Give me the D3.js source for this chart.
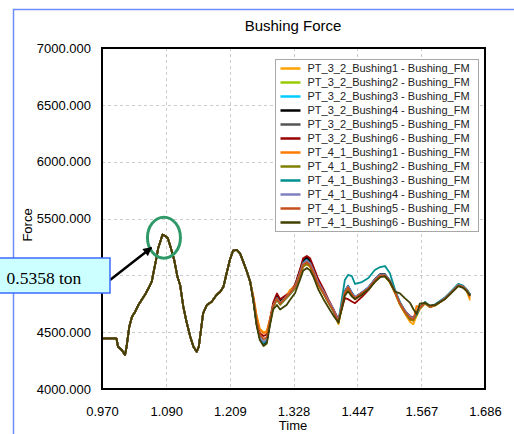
<!DOCTYPE html>
<html>
<head>
<meta charset="utf-8">
<script src="https://cdn.jsdelivr.net/npm/d3@7"></script>
<style>
  html, body { margin: 0; padding: 0; background: #fff; }
  svg { display: block; font-family: "Liberation Sans", Arial, sans-serif; }
</style>
</head>
<body>
<svg id="chart" width="514" height="434"></svg>
<script>
// ---- data -------------------------------------------------------------
const seriesNames = [
  "PT_3_2_Bushing1 - Bushing_FM", "PT_3_2_Bushing2 - Bushing_FM",
  "PT_3_2_Bushing3 - Bushing_FM", "PT_3_2_Bushing4 - Bushing_FM",
  "PT_3_2_Bushing5 - Bushing_FM", "PT_3_2_Bushing6 - Bushing_FM",
  "PT_4_1_Bushing1 - Bushing_FM", "PT_4_1_Bushing2 - Bushing_FM",
  "PT_4_1_Bushing3 - Bushing_FM", "PT_4_1_Bushing4 - Bushing_FM",
  "PT_4_1_Bushing5 - Bushing_FM", "PT_4_1_Bushing6 - Bushing_FM"
];
const seriesColors = [
  "#ffa200", "#99cc00", "#00ccff", "#000000", "#555555", "#990000",
  "#ff7a00", "#808000", "#009090", "#8080c0", "#c4501c", "#404000"
];

const xTicks = [0.970, 1.090, 1.209, 1.328, 1.447, 1.567, 1.686];
const yTicks = [4000, 4500, 5000, 5500, 6000, 6500, 7000];

// Start of the run: every bushing follows the same force history
const headTime = [0.970, 0.997, 1.000, 1.007, 1.013, 1.016, 1.021, 1.026, 1.032, 1.038,
  1.044, 1.050, 1.057, 1.063, 1.066, 1.071, 1.075, 1.080, 1.083, 1.088,
  1.093, 1.098, 1.105, 1.111, 1.116, 1.122, 1.128, 1.135, 1.141, 1.147,
  1.151, 1.155, 1.159, 1.166, 1.175, 1.184, 1.191, 1.197, 1.203, 1.209,
  1.215, 1.222, 1.228, 1.234, 1.241, 1.247];
const headForce = [4446, 4446, 4372, 4343, 4299, 4372, 4548, 4636, 4680, 4739,
  4783, 4827, 4886, 4944, 5018, 5135, 5238, 5311, 5358, 5346,
  5326, 5252, 5135, 4988, 4915, 4724, 4592, 4460, 4372, 4328,
  4372, 4519, 4666, 4739, 4768, 4827, 4856, 4900, 5018, 5135,
  5217, 5223, 5194, 5120, 5032, 4944];

// Later part: the bushings separate
const tailTime = [1.253, 1.259, 1.265, 1.272, 1.278, 1.284, 1.290, 1.297, 1.303, 1.315,
  1.321, 1.331, 1.340, 1.346, 1.353, 1.359, 1.365, 1.374, 1.384, 1.393,
  1.402, 1.412, 1.418, 1.424, 1.430, 1.437, 1.443, 1.456, 1.468, 1.480,
  1.490, 1.499, 1.508, 1.518, 1.527, 1.536, 1.546, 1.552, 1.558, 1.564,
  1.574, 1.583, 1.593, 1.611, 1.621, 1.636, 1.645, 1.652, 1.658];

const pt32b1 = [4820, 4650, 4530, 4500, 4510, 4620, 4740, 4790, 4750, 4820, 4870, 4910, 5000, 5080, 5095, 5075, 5010, 4915, 4840, 4765, 4690, 4570, 4715, 4840, 4880, 4830, 4795, 4840, 4880, 4945, 4990, 4995, 4940, 4840, 4740, 4665, 4590, 4570, 4640, 4700, 4750, 4720, 4735, 4790, 4840, 4905, 4905, 4860, 4780];
const pt32b2 = [4790, 4590, 4470, 4420, 4440, 4585, 4725, 4785, 4745, 4805, 4830, 4890, 5000, 5085, 5105, 5085, 5025, 4925, 4845, 4770, 4700, 4585, 4725, 4850, 4890, 4830, 4795, 4840, 4880, 4950, 4995, 4995, 4945, 4850, 4750, 4680, 4620, 4610, 4655, 4710, 4755, 4720, 4735, 4795, 4840, 4910, 4900, 4870, 4820];
const pt32b3 = [4780, 4575, 4450, 4396, 4420, 4580, 4735, 4810, 4765, 4815, 4840, 4905, 5030, 5120, 5150, 5120, 5050, 4940, 4855, 4775, 4700, 4600, 4740, 4865, 4910, 4850, 4810, 4850, 4895, 4965, 5010, 5010, 4955, 4855, 4755, 4680, 4625, 4615, 4655, 4715, 4765, 4725, 4745, 4800, 4850, 4920, 4905, 4875, 4825];
const pt32b4 = [4780, 4570, 4445, 4396, 4415, 4585, 4740, 4820, 4770, 4820, 4845, 4910, 5040, 5130, 5160, 5125, 5050, 4940, 4855, 4775, 4700, 4595, 4735, 4860, 4905, 4845, 4805, 4850, 4890, 4965, 5010, 5010, 4955, 4855, 4755, 4685, 4630, 4620, 4660, 4715, 4760, 4725, 4740, 4800, 4845, 4915, 4905, 4870, 4830];
const pt32b5 = [4785, 4580, 4455, 4410, 4430, 4580, 4725, 4795, 4750, 4810, 4835, 4895, 5015, 5105, 5130, 5105, 5040, 4935, 4855, 4775, 4705, 4600, 4730, 4855, 4900, 4840, 4800, 4845, 4890, 4960, 5005, 5005, 4950, 4855, 4760, 4690, 4635, 4625, 4660, 4710, 4760, 4725, 4740, 4800, 4845, 4915, 4900, 4870, 4830];
const pt32b6 = [4800, 4620, 4490, 4466, 4480, 4610, 4760, 4840, 4790, 4830, 4850, 4920, 5050, 5150, 5170, 5150, 5080, 4970, 4880, 4790, 4710, 4610, 4700, 4800, 4790, 4770, 4755, 4810, 4870, 4950, 4995, 4995, 4945, 4850, 4755, 4690, 4640, 4630, 4665, 4715, 4760, 4725, 4740, 4795, 4840, 4910, 4900, 4870, 4830];
const pt41b1 = [4810, 4640, 4520, 4490, 4500, 4610, 4735, 4795, 4755, 4815, 4860, 4905, 5005, 5085, 5100, 5080, 5020, 4920, 4845, 4770, 4695, 4580, 4720, 4845, 4885, 4825, 4790, 4835, 4875, 4945, 4995, 4995, 4945, 4845, 4745, 4670, 4605, 4600, 4730, 4720, 4755, 4725, 4740, 4795, 4845, 4910, 4900, 4865, 4800];
const pt41b2 = [4780, 4585, 4460, 4415, 4435, 4580, 4720, 4785, 4740, 4800, 4830, 4885, 4995, 5075, 5100, 5080, 5020, 4920, 4840, 4760, 4690, 4580, 4720, 4845, 4890, 4830, 4795, 4840, 4880, 4945, 4990, 4990, 4940, 4845, 4745, 4675, 4610, 4605, 4650, 4710, 4755, 4720, 4735, 4795, 4840, 4910, 4895, 4865, 4820];
const pt41b3 = [4785, 4585, 4455, 4405, 4425, 4585, 4730, 4800, 4755, 4810, 4835, 4900, 5020, 5110, 5130, 5105, 5040, 4935, 4850, 4770, 4695, 4590, 4780, 4959, 5003, 4994, 4924, 4941, 4977, 5047, 5073, 5082, 5020, 4870, 4765, 4690, 4630, 4620, 4655, 4715, 4765, 4730, 4745, 4805, 4850, 4925, 4910, 4875, 4830];
const pt41b4 = [4785, 4585, 4460, 4418, 4435, 4585, 4730, 4800, 4755, 4812, 4840, 4900, 5020, 5105, 5130, 5105, 5045, 4940, 4860, 4780, 4708, 4602, 4735, 4860, 4905, 4845, 4810, 4850, 4895, 4965, 5005, 5005, 4955, 4860, 4760, 4690, 4635, 4628, 4665, 4715, 4760, 4725, 4742, 4800, 4845, 4915, 4902, 4872, 4828];
const pt41b5 = [4790, 4600, 4480, 4440, 4455, 4595, 4730, 4795, 4750, 4810, 4840, 4900, 5010, 5095, 5115, 5090, 5030, 4925, 4845, 4765, 4695, 4590, 4725, 4850, 4895, 4835, 4800, 4845, 4885, 4955, 5000, 5000, 4948, 4850, 4752, 4682, 4625, 4615, 4680, 4715, 4760, 4722, 4738, 4795, 4842, 4912, 4898, 4868, 4815];
const pt41b6 = [4770, 4560, 4430, 4378, 4400, 4560, 4700, 4739, 4700, 4739, 4780, 4845, 4959, 5040, 5065, 5045, 4990, 4880, 4790, 4720, 4650, 4585, 4700, 4820, 4860, 4815, 4790, 4830, 4875, 4940, 4985, 4990, 4945, 4856, 4842, 4800, 4757, 4704, 4660, 4750, 4757, 4735, 4740, 4790, 4835, 4905, 4890, 4860, 4820];

const tails = [pt32b1, pt32b2, pt32b3, pt32b4, pt32b5, pt32b6,
               pt41b1, pt41b2, pt41b3, pt41b4, pt41b5, pt41b6];

// ---- layout -----------------------------------------------------------
const svg = d3.select("#chart");
const plot = { left: 102, right: 485, top: 48, bottom: 389 };

const x = d3.scaleLinear().domain([xTicks[0], xTicks[xTicks.length - 1]]).range([plot.left, plot.right]);
const y = d3.scaleLinear().domain([yTicks[0], yTicks[yTicks.length - 1]]).range([plot.bottom, plot.top]);

// callout geometry (the callout box sits over the axis label column)
const callout = { x: -2, y: 258, w: 112, h: 35 };

// slide border
svg.append("path")
  .attr("d", "M13.5,434 V9.5 H514")
  .attr("fill", "none").attr("stroke", "#6f8cff").attr("stroke-width", 1.5);

// title
svg.append("text").attr("x", 293).attr("y", 30.5)
  .attr("text-anchor", "middle").attr("font-size", 15).text("Bushing Force");

// grid
const grid = svg.append("g").attr("stroke", "#cccccc").attr("stroke-dasharray", "3,3").attr("stroke-width", 1);
grid.selectAll("line.v").data(xTicks.slice(1, -1)).join("line")
  .attr("x1", d => Math.round(x(d)) + 0.5).attr("x2", d => Math.round(x(d)) + 0.5)
  .attr("y1", plot.top).attr("y2", plot.bottom);
grid.selectAll("line.h").data(yTicks.slice(1, -1)).join("line")
  .attr("y1", d => Math.round(y(d)) + 0.5).attr("y2", d => Math.round(y(d)) + 0.5)
  .attr("x1", plot.left).attr("x2", plot.right);

// axes; a y label that would sit under the callout box is left out
const fmt = d3.format(".3f");
const hiddenByCallout = v => y(v) > callout.y && y(v) < callout.y + callout.h;
const gx = svg.append("g").attr("transform", `translate(0,${plot.bottom})`)
  .call(d3.axisBottom(x).tickValues(xTicks).tickFormat(fmt).tickSize(0).tickPadding(18));
const gy = svg.append("g").attr("transform", `translate(${plot.left},0)`)
  .call(d3.axisLeft(y).tickValues(yTicks.filter(v => !hiddenByCallout(v)))
    .tickFormat(fmt).tickSize(0).tickPadding(11));
[gx, gy].forEach(g => {
  g.select(".domain").remove();
  g.attr("font-family", null).attr("font-size", 13);
  g.selectAll("text").attr("fill", "#000");
});

svg.append("text").attr("x", 293).attr("y", 430)
  .attr("text-anchor", "middle").attr("font-size", 13).text("Time");
svg.append("text").attr("transform", "translate(32,225) rotate(-90)")
  .attr("text-anchor", "middle").attr("font-size", 13).text("Force");

// curves
svg.append("clipPath").attr("id", "plotclip").append("rect")
  .attr("x", plot.left).attr("y", plot.top)
  .attr("width", plot.right - plot.left).attr("height", plot.bottom - plot.top);

const line = d3.line().x(d => x(d[0])).y(d => y(d[1]));
const series = tails.map((tail, i) => ({
  name: seriesNames[i],
  color: seriesColors[i],
  points: headTime.map((t, k) => [t, headForce[k]])
    .concat(tailTime.map((t, k) => [t, tail[k]]))
}));

svg.append("g").attr("clip-path", "url(#plotclip)")
  .selectAll("path").data(series).join("path")
  .attr("d", d => line(d.points))
  .attr("fill", "none")
  .attr("stroke", d => d.color)
  .attr("stroke-width", 1.8)
  .attr("stroke-linejoin", "round");

// plot frame
svg.append("rect")
  .attr("x", plot.left).attr("y", plot.top)
  .attr("width", plot.right - plot.left).attr("height", plot.bottom - plot.top)
  .attr("fill", "none").attr("stroke", "#000").attr("stroke-width", 2);

// legend
const legend = svg.append("g").attr("transform", "translate(275.5,59.5)");
legend.append("rect").attr("width", 203).attr("height", 172)
  .attr("fill", "#fff").attr("stroke", "#a8a8a8").attr("stroke-width", 1);
const rows = legend.selectAll("g.row").data(series).join("g")
  .attr("transform", (d, i) => `translate(0,${9 + i * 14})`);
rows.append("line").attr("x1", 5).attr("x2", 25)
  .attr("stroke", d => d.color).attr("stroke-width", 2.5);
rows.append("text").attr("x", 32).attr("dy", "0.35em")
  .attr("font-size", 11).attr("fill", "#222").text(d => d.name);

// callout on the first peak
const peakIdx = d3.maxIndex(headForce);
const peakT = headTime[peakIdx], peakF = headForce[peakIdx];
const px = x(peakT), py = y(peakF);

svg.append("ellipse")
  .attr("cx", px + 1.5).attr("cy", py + 3).attr("rx", 16.5).attr("ry", 20.5)
  .attr("fill", "none").attr("stroke", "#2f9a68").attr("stroke-width", 3);

const defs = svg.append("defs");
defs.append("marker").attr("id", "arrowhead")
  .attr("viewBox", "0 0 10 10").attr("refX", 9).attr("refY", 5)
  .attr("markerWidth", 11).attr("markerHeight", 9)
  .attr("markerUnits", "userSpaceOnUse").attr("orient", "auto")
  .append("path").attr("d", "M0,0 L10,5 L0,10 Z").attr("fill", "#000");

svg.append("line")
  .attr("x1", callout.x + callout.w).attr("y1", 280).attr("x2", px - 11).attr("y2", py + 13)
  .attr("stroke", "#000").attr("stroke-width", 2.5)
  .attr("marker-end", "url(#arrowhead)");

svg.append("rect").attr("x", callout.x).attr("y", callout.y)
  .attr("width", callout.w).attr("height", callout.h)
  .attr("fill", "#ccffff").attr("stroke", "#3d6bff").attr("stroke-width", 1.5);
svg.append("text").attr("x", 6.5).attr("y", 284)
  .attr("font-family", "'Liberation Serif', 'Times New Roman', serif")
  .attr("font-size", 17.5).attr("fill", "#000")
  .text(d3.format(".4f")(peakF / 10000) + " ton");
</script>
</body>
</html>
